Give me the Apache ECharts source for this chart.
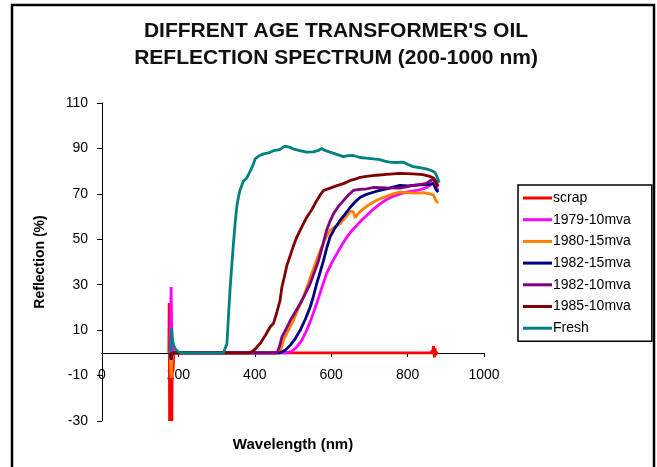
<!DOCTYPE html>
<html>
<head>
<meta charset="utf-8">
<title>Oil reflection spectrum</title>
<script src="https://cdn.jsdelivr.net/npm/echarts@6/dist/echarts.min.js"></script>
<style>
    html, body {margin: 0; padding: 0; background: #fff;}
    #main {width: 657px; height: 467px;}
</style>
</head>
<body>
<div id="main"></div>
<script>
// wavelength (nm), reflection (%)
const scrap = [[175, 0], [176, 22], [177, -30], [178, 20], [179, -30], [180, 18], [181, -30], [182, 10], [183, -30],
    [184, 2], [186, -8], [188, 0], [200, 0], [300, 0], [400, 0], [500, 0], [600, 0], [700, 0], [800, 0], [860, 0],
    [866, 1], [868, 3], [870, -2], [872, 2], [874, -1], [876, 0], [880, 0]];
const m1979_10 = [[178, 0], [181, 29], [182, 14], [184, 4], [186, 1], [190, 0], [250, 0], [350, 0], [450, 0], [480, 0],
    [495, 0.5], [510, 2.6], [523, 5.5], [536, 10], [549, 15.5], [562, 21.7], [575, 28.5], [588, 35], [601, 39.5],
    [615, 43.7], [628, 47.5], [641, 51], [654, 53.8], [667, 56.1], [680, 58.5], [693, 60.5], [710, 63.2], [728, 65.6],
    [745, 67.5], [762, 68.9], [780, 70], [797, 70.8], [815, 71.3], [832, 71.8], [850, 72.8], [862, 74.2], [868, 75],
    [874, 73], [880, 71.5]];
const m1980_15 = [[178, 0], [181, -11], [183, -4], [186, 0], [200, 0], [300, 0], [400, 0], [460, 0], [468, 1.5],
    [475, 5.6], [488, 10], [501, 14.3], [514, 19.5], [527, 24.6], [538, 29.5], [549, 34.9], [560, 40], [571, 45],
    [584, 50], [597, 54], [610, 55.5], [623, 56.8], [634, 59], [645, 61.2], [652, 62.5], [658, 62], [663, 59.5],
    [667, 60.5], [675, 62], [684, 63.4], [697, 65], [710, 66.3], [723, 67.5], [745, 68.9], [762, 70], [780, 70.8],
    [800, 70.5], [820, 70.3], [840, 70.5], [858, 70], [868, 69.5], [874, 67], [880, 66]];
const m1982_15 = [[178, 0], [181, -3], [184, 0], [200, 0], [300, 0], [400, 0], [466, 0], [480, 1.2], [493, 3.4],
    [506, 6.3], [519, 10], [532, 14.7], [545, 20.2], [553, 24.6], [562, 30.5], [571, 35.5], [580, 40.7], [588, 46],
    [597, 51], [610, 55], [623, 58.3], [636, 61], [650, 64.1], [663, 66.5], [676, 68.5], [693, 69.8], [710, 70.7],
    [727, 71.5], [745, 72.2], [762, 73], [780, 73.7], [800, 73.5], [814, 73.7], [835, 74], [858, 74.2], [868, 74.5],
    [874, 72], [880, 70.8]];
const m1982_10 = [[178, 0], [181, -2], [184, 0], [200, 0], [300, 0], [400, 0], [458, 0], [465, 3], [471, 7],
    [482, 10.5], [493, 14.3], [506, 18], [519, 21.7], [532, 26], [545, 30.5], [556, 35.5], [567, 40.7], [578, 47.5],
    [588, 54], [597, 58], [606, 61.2], [619, 64.5], [632, 67], [645, 69.5], [658, 71.5], [675, 72], [693, 72.2],
    [710, 72.8], [745, 72.6], [780, 72.5], [800, 73.2], [814, 73.7], [835, 74.2], [849, 74.6], [862, 76], [868, 76.5],
    [874, 74], [880, 73]];
const m1985_10 = [[178, 0], [181, -2], [184, 0], [200, 0], [300, 0], [388, 0], [400, 1.5], [414, 4.1], [427, 7.5],
    [440, 11.4], [449, 13], [458, 18], [466, 23], [471, 29], [478, 34], [484, 38.5], [493, 43], [501, 47], [510, 51],
    [523, 55.5], [536, 59.7], [549, 63], [562, 67], [571, 69.5], [580, 71.5], [597, 72.5], [615, 73.6], [632, 74.5],
    [650, 75.9], [663, 76.5], [676, 77.3], [697, 77.8], [719, 78.2], [745, 78.6], [780, 79], [814, 78.8], [840, 78.5],
    [858, 77.7], [868, 77], [874, 75.5], [880, 73.5]];
const fresh = [[178, 0], [180, 4], [182, 11], [184, 6], [188, 3], [193, 1.5], [200, 0.5], [210, 0], [250, 0], [318, 0],
    [323, 0.5], [327, 4], [331, 15.8], [335, 27.5], [340, 39], [344, 48], [349, 58], [353, 64.5], [357, 68.5],
    [361, 71.5], [370, 75.5], [379, 77], [388, 80], [395, 82.5], [401, 85.4], [412, 86.8], [423, 87.6], [436, 88],
    [449, 89], [465, 89.5], [479, 91], [490, 90.6], [500, 89.8], [510, 89.4], [523, 88.8], [536, 88.4], [553, 88.5],
    [565, 89], [575, 90], [585, 89], [597, 88.4], [615, 87.4], [632, 86.4], [645, 86.8], [658, 86.9], [675, 86],
    [692, 85.7], [710, 85.4], [727, 85.1], [740, 84.4], [753, 84], [770, 83.8], [788, 84], [800, 83], [814, 82],
    [830, 81.6], [849, 81], [862, 80.3], [871, 79.5], [876, 78], [880, 76], [883, 75]];

const seriesNames = ['scrap', '1979-10mva', '1980-15mva', '1982-15mva', '1982-10mva', '1985-10mva', 'Fresh'];
const seriesData = [scrap, m1979_10, m1980_15, m1982_15, m1982_10, m1985_10, fresh];
const seriesColors = ['#ff0000', '#ff00ff', '#ff7f00', '#000080', '#800080', '#800000', '#008080'];

let chartDom = document.getElementById('main');
let myChart = echarts.init(chartDom);
let option;

option = {
    animation: false,
    textStyle: {fontFamily: 'Liberation Sans, Arial, sans-serif'},
    graphic: [{
        // outer frame of the picture
        type: 'rect',
        shape: {x: 12, y: 5, width: 642, height: 480},
        style: {fill: 'none', stroke: '#000', lineWidth: 2.5}
    }],
    title: {
        text: "DIFFRENT AGE TRANSFORMER'S OIL\nREFLECTION SPECTRUM (200-1000 nm)",
        left: 336,
        top: 18,
        padding: 0,
        textAlign: 'center',
        textStyle: {fontSize: 21, fontWeight: 'bold', lineHeight: 27, color: '#111'}
    },
    legend: {
        orient: 'vertical',
        left: 518,
        top: 185,
        padding: [5, 21, 5, 5],
        borderColor: '#000',
        borderWidth: 1.5,
        icon: 'rect',
        itemWidth: 29,
        itemHeight: 3,
        itemGap: 5.7,
        textStyle: {fontSize: 14, lineHeight: 16, color: '#000', padding: [0, 0, 0, -4]},
        data: seriesNames
    },
    grid: {left: 102, right: 173, top: 103, bottom: 46, outerBoundsMode: 'none'},
    xAxis: {
        type: 'value',
        min: 0,
        max: 1000,
        interval: 200,
        // axis sits on the zero line, moved up from the grid bottom
        offset: -68.1,
        name: 'Wavelength (nm)',
        nameLocation: 'middle',
        nameGap: 84,
        nameTextStyle: {fontSize: 15, fontWeight: 'bold', color: '#000'},
        axisLine: {onZero: false, lineStyle: {color: '#000', width: 1}},
        axisTick: {length: 4, lineStyle: {color: '#000'}},
        axisLabel: {fontSize: 14, color: '#000', margin: 15, formatter: v => String(v)},
        splitLine: {show: false}
    },
    yAxis: {
        type: 'value',
        min: -30,
        max: 110,
        interval: 20,
        name: 'Reflection (%)',
        nameLocation: 'middle',
        nameGap: 55,
        nameTextStyle: {fontSize: 14, fontWeight: 'bold', color: '#000'},
        axisLine: {show: true, lineStyle: {color: '#000', width: 1}},
        axisTick: {show: true, length: 5, lineStyle: {color: '#000'}},
        axisLabel: {fontSize: 14, color: '#000', margin: 14},
        splitLine: {show: false}
    },
    series: seriesNames.map((name, i) => ({
        name: name,
        type: 'line',
        data: seriesData[i],
        showSymbol: false,
        color: seriesColors[i],
        lineStyle: {width: 2.8, color: seriesColors[i]}
    }))
};
option && myChart.setOption(option);
</script>
</body>
</html>
